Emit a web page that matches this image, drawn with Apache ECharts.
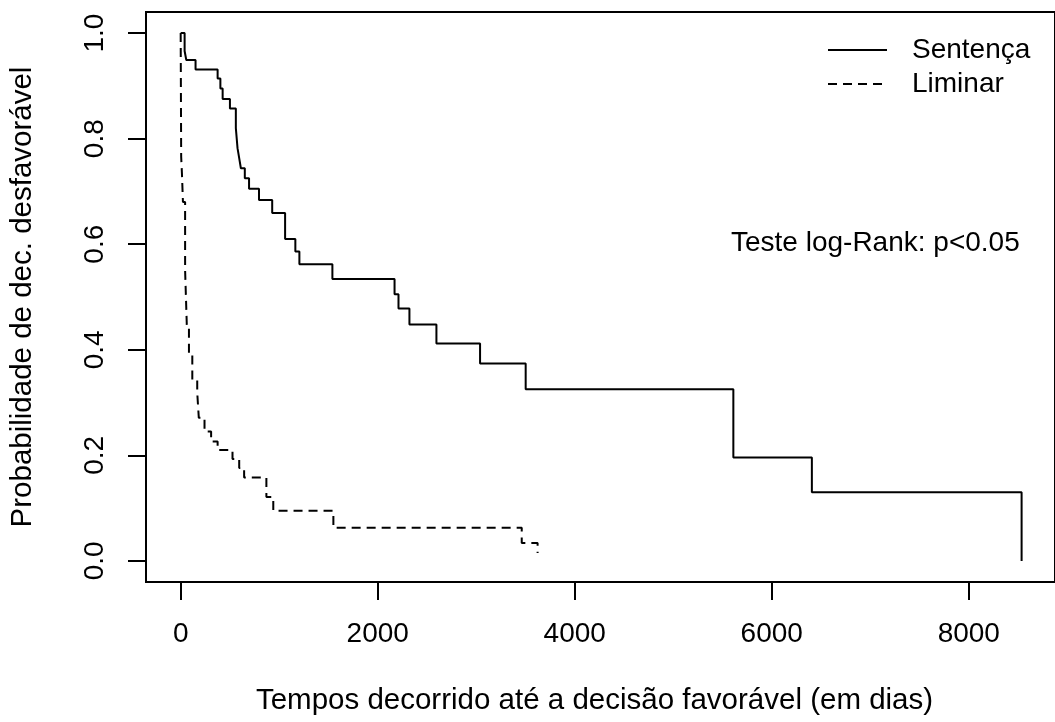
<!DOCTYPE html>
<html>
<head>
<meta charset="utf-8">
<script src="https://cdn.jsdelivr.net/npm/echarts@6/dist/echarts.min.js"></script>
<style>
  html, body { margin: 0; padding: 0; background: #fff; }
  #chart { width: 1055px; height: 722px; }
</style>
</head>
<body>
<div id="chart"></div>
<script>
// Kaplan-Meier curves (time in days, survival after each step)
const sentencaTempo = [0, 40, 57, 151, 375, 403, 426, 500, 560, 577, 594, 611, 651, 694, 795, 929, 1060, 1164, 1205, 1540, 2171, 2211, 2322, 2596, 3039, 3502, 5610, 6407, 8536];
const sentencaProb = [1, 0.966, 0.949, 0.931, 0.914, 0.895, 0.875, 0.857, 0.820, 0.782, 0.763, 0.744, 0.725, 0.705, 0.684, 0.659, 0.610, 0.586, 0.562, 0.534, 0.505, 0.478, 0.448, 0.412, 0.374, 0.325, 0.196, 0.130, 0];

const liminarTempo = [0, 5, 13, 23, 45, 63, 84, 118, 168, 184, 242, 309, 375, 526, 594, 644, 870, 940, 1550, 3462, 3623];
const liminarProb = [1, 0.766, 0.733, 0.680, 0.551, 0.442, 0.390, 0.343, 0.319, 0.271, 0.245, 0.226, 0.210, 0.193, 0.176, 0.158, 0.121, 0.095, 0.063, 0.034, 0.015];

const xTicks = [0, 2000, 4000, 6000, 8000];
const yTicks = [0, 0.2, 0.4, 0.6, 0.8, 1.0];

const FONT = "'Liberation Sans', Arial, sans-serif";

const chart = echarts.init(document.getElementById("chart"));

const option = {
  animation: false,
  backgroundColor: "#fff",
  grid: {
    left: 146,
    top: 12,
    right: -8,
    bottom: 140,
    show: true,
    borderColor: "#000",
    borderWidth: 2,
  },
  legend: {
    data: ["Sentença", "Liminar"],
    orient: "vertical",
    left: 822,
    top: 31,
    itemWidth: 59,
    itemHeight: 14,
    itemGap: 6,
    itemStyle: { opacity: 0 },
    textStyle: {
      fontFamily: FONT,
      fontSize: 28,
      lineHeight: 28,
      color: "#000",
      padding: [0, 0, 0, 20],
    },
  },
  xAxis: {
    type: "value",
    min: -352,
    max: 8875,
    name: "Tempos decorrido até a decisão favorável (em dias)",
    nameLocation: "middle",
    nameGap: 104,
    nameTextStyle: {
      fontFamily: FONT,
      fontSize: 29.5,
      color: "#000",
      padding: [0, 12, 0, 0],
    },
    axisLine: { show: false, onZero: false },
    axisTick: {
      show: true,
      length: 18,
      customValues: xTicks,
      lineStyle: { color: "#000", width: 2 },
    },
    axisLabel: {
      customValues: xTicks,
      margin: 38,
      fontFamily: FONT,
      fontSize: 28,
      color: "#000",
      formatter: (v) => String(v),
    },
    splitLine: { show: false },
  },
  yAxis: {
    type: "value",
    min: -0.04,
    max: 1.04,
    name: "Probabilidade de dec. desfavorável",
    nameLocation: "middle",
    nameGap: 108,
    nameTextStyle: { fontFamily: FONT, fontSize: 29.5, color: "#000" },
    axisLine: { show: false, onZero: false },
    axisTick: {
      show: true,
      length: 18,
      customValues: yTicks,
      lineStyle: { color: "#000", width: 2 },
    },
    axisLabel: {
      customValues: yTicks,
      rotate: 90,
      margin: 37,
      fontFamily: FONT,
      fontSize: 28,
      color: "#000",
      formatter: (v) => v.toFixed(1),
    },
    splitLine: { show: false },
  },
  graphic: [
    {
      type: "text",
      x: 731,
      y: 243,
      style: {
        text: "Teste log-Rank: p<0.05",
        font: "28px " + FONT,
        fill: "#000",
        textVerticalAlign: "middle",
      },
    },
  ],
  series: [
    {
      name: "Sentença",
      type: "line",
      step: "end",
      symbol: "none",
      color: "#000",
      lineStyle: { color: "#000", width: 2 },
      data: sentencaTempo.map((t, i) => [t, sentencaProb[i]]),
    },
    {
      name: "Liminar",
      type: "line",
      step: "end",
      symbol: "none",
      color: "#000",
      lineStyle: { color: "#000", width: 2, type: [9, 6] },
      data: liminarTempo.map((t, i) => [t, liminarProb[i]]),
    },
  ],
};

chart.setOption(option);
</script>
</body>
</html>
